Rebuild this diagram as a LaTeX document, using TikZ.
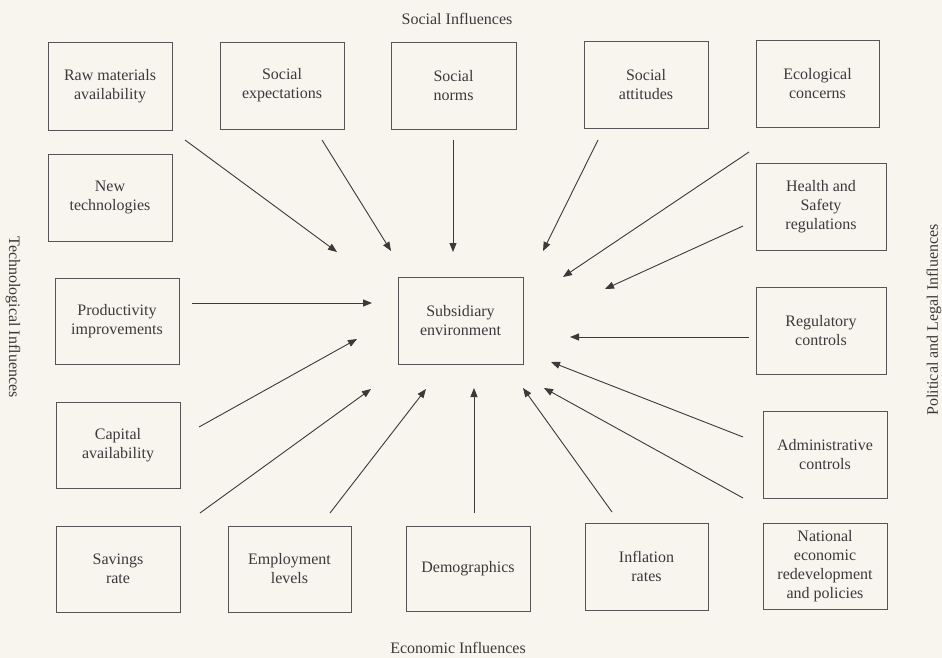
\documentclass[tikz,border=0pt]{standalone}
\usepackage{fontspec}
\setmainfont{Liberation Serif}
\usetikzlibrary{arrows.meta}
\definecolor{paper}{HTML}{F8F5EF}
\definecolor{ink}{HTML}{3A3A3A}
\definecolor{frame}{HTML}{555555}
\tikzset{
  factor/.style={draw=frame, line width=0.9pt, align=center, inner sep=0pt,
    text=ink, font=\fontsize{16}{19}\selectfont},
  heading/.style={text=ink, font=\fontsize{16}{19}\selectfont, inner sep=0pt},
  push/.style={draw=ink, line width=0.9pt,
    -{Triangle[length=9pt,width=7pt]}},
}
\begin{document}
\begin{tikzpicture}[x=1pt,y=-1pt]
  \fill[paper] (0,0) rectangle (942,658);
  \useasboundingbox (0,0) rectangle (942,658);

  % side headings
  \node[heading] (hsoc) at (457,19) {Social Influences};
  \node[heading] (heco) at (458,648) {Economic Influences};
  \node[heading, rotate=-90] (htec) at (13,317) {Technological Influences};
  \node[heading, rotate=90] (hpol) at (934,320) {Political and Legal Influences};

  % factor boxes
  \node[factor, minimum width=124pt, minimum height=88pt] (raw) at (110,86) {Raw materials\\availability};
  \node[factor, minimum width=124pt, minimum height=87pt] (sexp) at (282,85.5) {Social\\expectations};
  \node[factor, minimum width=125pt, minimum height=87pt] (snorm) at (453.5,85.5) {Social\\norms};
  \node[factor, minimum width=124pt, minimum height=87pt] (satt) at (646,84.5) {Social\\attitudes};
  \node[factor, minimum width=123pt, minimum height=87pt] (eco) at (817.5,83.5) {Ecological\\concerns};
  \node[factor, minimum width=124pt, minimum height=87pt] (newt) at (110,197.5) {New\\technologies};
  \node[factor, minimum width=130pt, minimum height=87pt] (hsr) at (821,206.5) {Health and\\Safety\\regulations};
  \node[factor, minimum width=124pt, minimum height=86pt] (prod) at (117,321) {Productivity\\improvements};
  \node[factor, minimum width=125pt, minimum height=87pt] (sub) at (460.5,320.5) {Subsidiary\\environment};
  \node[factor, minimum width=130pt, minimum height=87pt] (reg) at (821,330.5) {Regulatory\\controls};
  \node[factor, minimum width=124pt, minimum height=86pt] (cap) at (118,445) {Capital\\availability};
  \node[factor, minimum width=124pt, minimum height=87pt] (adm) at (825,454.5) {Administrative\\controls};
  \node[factor, minimum width=124pt, minimum height=86pt] (sav) at (118,569) {Savings\\rate};
  \node[factor, minimum width=123pt, minimum height=86pt] (emp) at (289.5,569) {Employment\\levels};
  \node[factor, minimum width=124pt, minimum height=85pt] (dem) at (468,568.5) {Demographics};
  \node[factor, minimum width=123pt, minimum height=87pt] (inf) at (646.5,566.5) {Inflation\\rates};
  \node[factor, minimum width=124pt, minimum height=86pt] (nat) at (825,566) {National\\economic\\redevelopment\\and policies};

  % arrow tails and tips around the centre
  \coordinate (s1) at (185,140);  \coordinate (t1) at (337,252);
  \coordinate (s2) at (322,140);  \coordinate (t2) at (391,251);
  \coordinate (s3) at (453,140);  \coordinate (t3) at (453,252);
  \coordinate (s4) at (598,140);  \coordinate (t4) at (543,251);
  \coordinate (s5) at (749,152);  \coordinate (t5) at (563,277);
  \coordinate (s6) at (743,226);  \coordinate (t6) at (605,289);
  \coordinate (s7) at (192,303);  \coordinate (t7) at (372,303);
  \coordinate (s8) at (749,337);  \coordinate (t8) at (570,337);
  \coordinate (s9) at (199,427);  \coordinate (t9) at (357,339);
  \coordinate (s10) at (200,513); \coordinate (t10) at (371,389);
  \coordinate (s11) at (330,513); \coordinate (t11) at (426,389);
  \coordinate (s12) at (474,513); \coordinate (t12) at (474,388);
  \coordinate (s13) at (612,512); \coordinate (t13) at (523,388);
  \coordinate (s14) at (743,498); \coordinate (t14) at (544,388);
  \coordinate (s15) at (743,437); \coordinate (t15) at (551,362);

  \foreach \i in {1,...,15} \draw[push] (s\i) -- (t\i);
\end{tikzpicture}
\end{document}
